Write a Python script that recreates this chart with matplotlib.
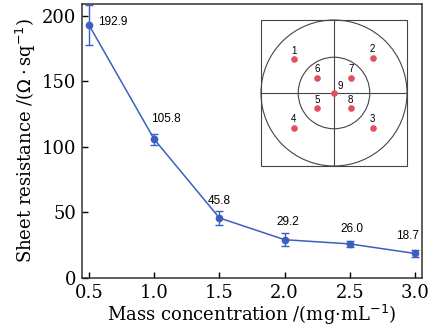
import numpy as np
import matplotlib
matplotlib.use("Agg")
import matplotlib.pyplot as plt
from matplotlib.patches import Circle, Rectangle

# data
conc = [0.5, 1.0, 1.5, 2.0, 2.5, 3.0]
resistance = [192.9, 105.8, 45.8, 29.2, 26.0, 18.7]
err = [15.0, 4.0, 5.0, 5.0, 2.5, 2.5]
labels = ["192.9", "105.8", "45.8", "29.2", "26.0", "18.7"]
# label offsets in pixels (dx, dy)
offsets = [(24, 3), (12, 20), (0, 17), (3, 18), (2, 15), (-7, 17)]

# inset measurement points (relative to wafer centre, radius 1)
pt_names = ["1", "2", "3", "4", "5", "6", "7", "8", "9"]
pt_x = [-0.55, 0.53, 0.53, -0.55, -0.23, -0.23, 0.23, 0.23, 0.0]
pt_y = [0.46, 0.48, -0.48, -0.48, -0.21, 0.21, 0.21, -0.21, 0.0]

blue = "#3b5fc1"
serif = ["DejaVu Serif"]

fig = plt.figure(figsize=(4.3, 3.33), dpi=100)
ax = fig.add_axes([0.1907, 0.1652, 0.7907, 0.8228])

ax.errorbar(conc, resistance, yerr=err, color=blue, marker="o", markersize=4.5,
            linewidth=1.1, capsize=3, elinewidth=1.0, capthick=1.0)
for x, y, t, (dx, dy) in zip(conc, resistance, labels, offsets):
    ax.annotate(t, (x, y), xytext=(dx, dy), textcoords="offset pixels",
                ha="center", va="center", fontsize=8.5, family="Liberation Sans")

ax.set_xlim(0.446, 3.054)
ax.set_ylim(0, 209)
ax.set_xticks([0.5, 1.0, 1.5, 2.0, 2.5, 3.0])
ax.set_yticks([0, 50, 100, 150, 200])
ax.tick_params(direction="in", length=4, width=1, labelsize=13, pad=4)
for lab in ax.get_xticklabels() + ax.get_yticklabels():
    lab.set_family(serif)
for s in ax.spines.values():
    s.set_linewidth(1.1)
    s.set_color("#333333")
ax.set_xlabel(r"Mass concentration /(mg$\cdot$mL$^{-1}$)", fontsize=13,
              family=serif, labelpad=1)
ax.set_ylabel(r"Sheet resistance /($\Omega\cdot$sq$^{-1}$)", fontsize=13,
              family=serif, labelpad=3)

# inset: wafer with measurement points
ins = fig.add_axes([261 / 430, 1 - 166 / 333, 146 / 430, 146 / 333])
ins.set_xlim(-1, 1)
ins.set_ylim(-1, 1)
ins.set_aspect("equal")
ins.axis("off")
ec = "#444444"
ins.add_patch(Rectangle((-1, -1), 2, 2, fill=False, lw=0.8, ec=ec, clip_on=False))
ins.add_patch(Circle((0, 0), 1.0, fill=False, lw=0.8, ec=ec, clip_on=False))
ins.add_patch(Circle((0, 0), 0.49, fill=False, lw=0.8, ec=ec))
ins.plot([-1, 1], [0, 0], color=ec, lw=0.8, clip_on=False)
ins.plot([0, 0], [-1, 1], color=ec, lw=0.8, clip_on=False)
ins.scatter(pt_x, pt_y, s=14, color="#e0505e", zorder=3)
for n, x, y in zip(pt_names, pt_x, pt_y):
    if n == "9":
        ins.text(x + 0.08, y + 0.1, n, fontsize=7, family="Liberation Sans",
                 ha="center", va="center")
    else:
        ins.text(x, y + 0.12, n, fontsize=7, family="Liberation Sans",
                 ha="center", va="center")

fig.savefig("out.png", dpi=100)
